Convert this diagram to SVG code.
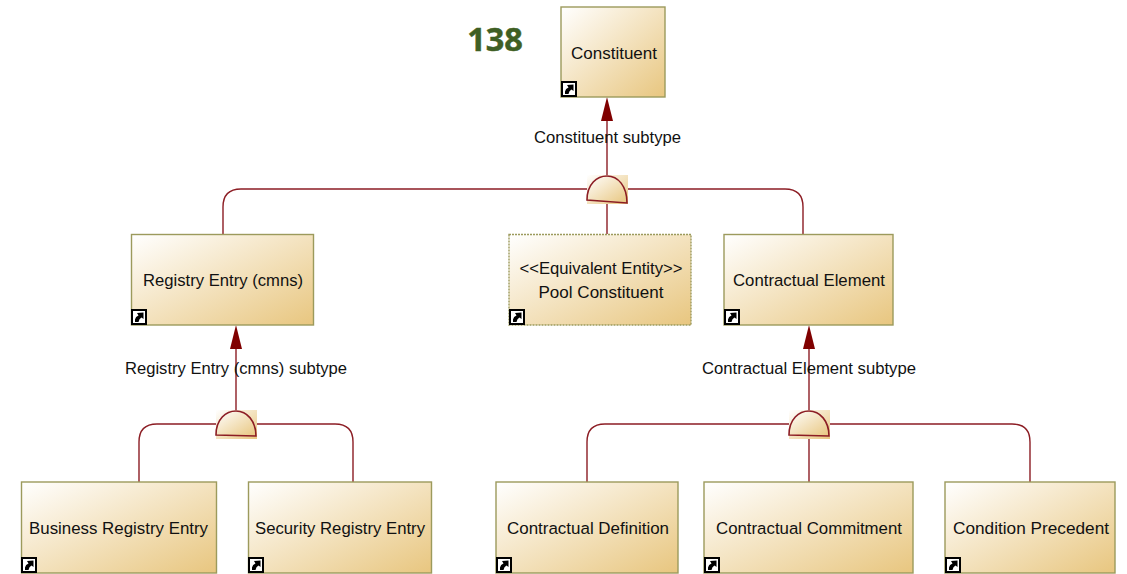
<svg xmlns="http://www.w3.org/2000/svg" width="1127" height="574" viewBox="0 0 1127 574">
<style>
.box{fill:url(#g);stroke:#9c9a5c;stroke-width:1.4}
.dash{stroke-dasharray:2 1}
.c{fill:none;stroke:#8c1d24;stroke-width:1.4}
.t{font-family:"Liberation Sans",Arial,sans-serif;font-size:16.700px;fill:#111;text-anchor:middle;lengthAdjust:spacingAndGlyphs}
.bg{fill:url(#g);stroke:none}
.semi{fill:url(#g);stroke:#8c1d24;stroke-width:1.6}
.ah{fill:#800000;stroke:none}
</style>
<defs>
<linearGradient id="g" x1="0" y1="0" x2="1" y2="1"><stop offset="0" stop-color="#ffffff"/><stop offset="1" stop-color="#e8c67f"/></linearGradient>
<g id="sc"><rect x="1" y="1" width="14" height="14" fill="#fff" stroke="#000" stroke-width="2"/><path d="M4 13L4 10.500Q4.500 7.500 7.500 6.500L6 4L12.500 3.500L12.500 10L10.500 8.500Q8 9.500 7.500 13Z" fill="#000"/></g>
</defs>
<rect width="1127" height="574" fill="#fff"/>
<text id="page-number" x="495" y="51" font-family="'Open Sans','Noto Sans',sans-serif" font-weight="700" font-size="32.500" fill="#3f5f24" stroke="#3f5f24" stroke-width="0.500" text-anchor="middle">138</text>
<g id="connectors">
<path class="c" d="M607 120V176"/>
<path class="c" d="M587 189H241Q223 189 223 207V234"/>
<path class="c" d="M628 189H785Q803 189 803 207V234"/>
<path class="c" d="M607 203V234"/>
<path class="c" d="M236 348V410"/>
<path class="c" d="M216 424H157Q139 424 139 442V482"/>
<path class="c" d="M257 424H335Q353 424 353 442V482"/>
<path class="c" d="M809 348V410"/>
<path class="c" d="M789 424H605Q587 424 587 442V482"/>
<path class="c" d="M830 424H1012Q1030 424 1030 442V482"/>
<path class="c" d="M809 437V482"/>
<path class="ah" d="M607 97L613 121H601Z"/>
<path class="ah" d="M236 325L242 349H230Z"/>
<path class="ah" d="M809 325L815 349H803Z"/>
</g>
<g id="gate-constituent"><rect class="bg" x="587" y="175" width="41" height="29"/><path class="semi" d="M587 200C587 184 597 176 607 176C618 176 627 186 627 203Z"/></g>
<g id="gate-registry"><rect class="bg" x="216" y="410" width="41" height="29"/><path class="semi" d="M216 435C216 419 226 411 236 411C247 411 256 421 256 436Z"/></g>
<g id="gate-contractual"><rect class="bg" x="789" y="410" width="41" height="29"/><path class="semi" d="M789 435C789 419 799 411 809 411C820 411 829 421 829 436Z"/></g>
<text class="t" x="607.500" y="143" textLength="147" lengthAdjust="spacingAndGlyphs">Constituent subtype</text>
<text class="t" x="236" y="374" textLength="222" lengthAdjust="spacingAndGlyphs">Registry Entry (cmns) subtype</text>
<text class="t" x="809" y="374" textLength="214" lengthAdjust="spacingAndGlyphs">Contractual Element subtype</text>
<g id="constituent"><rect class="box" x="561" y="7" width="104" height="90"/><use href="#sc" x="561" y="81"/><text class="t" x="614" y="59" textLength="86" lengthAdjust="spacingAndGlyphs">Constituent</text></g>
<g id="registry-entry"><rect class="box" x="131.500" y="234.500" width="182" height="90.500"/><use href="#sc" x="131" y="309"/><text class="t" x="223" y="286" textLength="160" lengthAdjust="spacingAndGlyphs">Registry Entry (cmns)</text></g>
<g id="pool-constituent"><rect class="box dash" x="509" y="234.500" width="182" height="90.500"/><use href="#sc" x="509" y="309"/><text class="t" x="601" y="274" textLength="163" lengthAdjust="spacingAndGlyphs">&lt;&lt;Equivalent Entity&gt;&gt;</text><text class="t" x="601" y="298" textLength="125" lengthAdjust="spacingAndGlyphs">Pool Constituent</text></g>
<g id="contractual-element"><rect class="box" x="724" y="234.500" width="169" height="90.500"/><use href="#sc" x="724" y="309"/><text class="t" x="809" y="286" textLength="152" lengthAdjust="spacingAndGlyphs">Contractual Element</text></g>
<g id="business-registry-entry"><rect class="box" x="21.500" y="482" width="195" height="91"/><use href="#sc" x="21" y="557"/><text class="t" x="118.500" y="534" textLength="179" lengthAdjust="spacingAndGlyphs">Business Registry Entry</text></g>
<g id="security-registry-entry"><rect class="box" x="248.500" y="482" width="183" height="91"/><use href="#sc" x="248" y="557"/><text class="t" x="340" y="534" textLength="170" lengthAdjust="spacingAndGlyphs">Security Registry Entry</text></g>
<g id="contractual-definition"><rect class="box" x="496" y="482" width="182" height="91"/><use href="#sc" x="496" y="557"/><text class="t" x="588" y="534" textLength="162" lengthAdjust="spacingAndGlyphs">Contractual Definition</text></g>
<g id="contractual-commitment"><rect class="box" x="704" y="482" width="209" height="91"/><use href="#sc" x="704" y="557"/><text class="t" x="809" y="534" textLength="186" lengthAdjust="spacingAndGlyphs">Contractual Commitment</text></g>
<g id="condition-precedent"><rect class="box" x="945" y="482" width="170" height="91"/><use href="#sc" x="945" y="557"/><text class="t" x="1031" y="534" textLength="156" lengthAdjust="spacingAndGlyphs">Condition Precedent</text></g>
</svg>
